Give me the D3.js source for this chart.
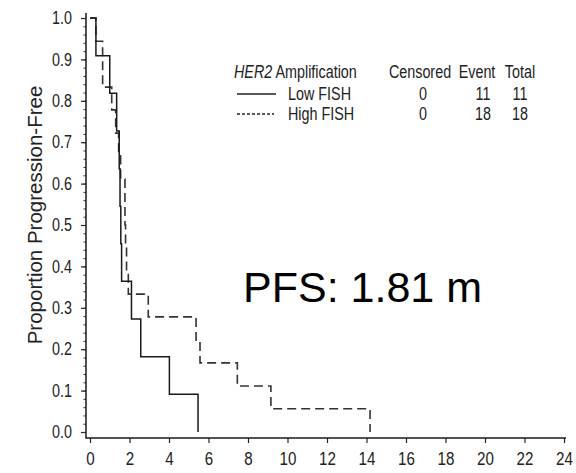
<!DOCTYPE html>
<html>
<head>
<meta charset="utf-8">
<script src="https://cdn.jsdelivr.net/npm/d3@7"></script>
<style>
  body { margin: 0; background: #fff; }
  svg text { font-family: "Liberation Sans", Arial, sans-serif; }
</style>
</head>
<body>
<svg id="chart" width="576" height="473"></svg>
<script>
// Kaplan-Meier steps (months, proportion after the event)
const lowTimes = [0.3, 1.0, 1.35, 1.48, 1.52, 1.56, 1.6, 2.1, 2.57, 4.02, 5.47];
const lowSurv = [0.909, 0.818, 0.727, 0.636, 0.545, 0.455, 0.364, 0.273, 0.182, 0.091, 0];
const highTimes = [0.3, 0.64, 0.64, 1.1, 1.3, 1.45, 1.55, 1.77, 1.77, 1.8, 1.85, 1.94, 2.95, 5.37, 5.57, 7.46, 9.16, 14.18];
const highSurv = [0.944, 0.889, 0.833, 0.778, 0.722, 0.667, 0.611, 0.556, 0.5, 0.444, 0.389, 0.333, 0.278, 0.222, 0.167, 0.111, 0.056, 0];

const xTicks = [0, 2, 4, 6, 8, 10, 12, 14, 16, 18, 20, 22, 24];
const yTicks = [0, 0.1, 0.2, 0.3, 0.4, 0.5, 0.6, 0.7, 0.8, 0.9, 1.0];

const groups = ["Low FISH", "High FISH"];
const censored = [0, 0];
const events = [11, 18];
const totals = [11, 18];

const NARROW = 0.82; // no narrow font installed, so squeeze Liberation Sans

const svg = d3.select("#chart");

const x = d3.scaleLinear().domain([0, 24]).range([90, 564]);
const y = d3.scaleLinear().domain([0, 1]).range([432, 18]);

const AXIS_X = 86, AXIS_Y = 438;

// y axis: major + minor ticks, no domain path (drawn by hand below)
const yMajor = svg.append("g")
  .attr("transform", `translate(${AXIS_X},0)`)
  .call(d3.axisLeft(y).tickValues(yTicks).tickSize(5).tickPadding(9)
    .tickFormat(d3.format(".1f")));
yMajor.select(".domain").remove();
yMajor.selectAll("text")
  .attr("font-size", 17.5)
  .attr("fill", "#222")
  .attr("x", -14 / NARROW)
  .attr("transform", `scale(${NARROW},1)`);
yMajor.selectAll("line").attr("stroke", "#222").attr("stroke-width", 1.2);

const yMinor = svg.append("g")
  .attr("transform", `translate(${AXIS_X},0)`)
  .call(d3.axisLeft(y).tickValues(d3.range(0, 1.001, 0.02)).tickSize(2.5).tickFormat(""));
yMinor.select(".domain").remove();
yMinor.selectAll("line").attr("stroke", "#333").attr("stroke-width", 1);

// x axis
const xAxis = svg.append("g")
  .attr("transform", `translate(0,${AXIS_Y})`)
  .call(d3.axisBottom(x).tickValues(xTicks).tickSize(5).tickPadding(9));
xAxis.select(".domain").remove();
xAxis.selectAll("text")
  .attr("font-size", 18.5)
  .attr("fill", "#222")
  .attr("transform", `scale(${NARROW},1)`);
xAxis.selectAll("line").attr("stroke", "#222").attr("stroke-width", 1.2);
svg.selectAll("g").attr("font-family", null);

// L-shaped frame
svg.append("path")
  .attr("d", `M${AXIS_X},13V${AXIS_Y}H566`)
  .attr("fill", "none")
  .attr("stroke", "#1a1a1a")
  .attr("stroke-width", 1.5);

// curves
const stepLine = d3.line()
  .x((d) => x(d[0]))
  .y((d) => y(d[1]))
  .curve(d3.curveStepAfter);

const toPoints = (times, surv) => [[0, 1]].concat(times.map((t, i) => [t, surv[i]]));

svg.append("path")
  .attr("d", stepLine(toPoints(highTimes, highSurv)))
  .attr("fill", "none")
  .attr("stroke", "#333")
  .attr("stroke-width", 1.6)
  .attr("stroke-dasharray", "9,5");

svg.append("path")
  .attr("d", stepLine(toPoints(lowTimes, lowSurv)))
  .attr("fill", "none")
  .attr("stroke", "#1a1a1a")
  .attr("stroke-width", 1.5);

// y label
svg.append("text")
  .attr("transform", "translate(42,215) rotate(-90)")
  .attr("text-anchor", "middle")
  .attr("font-size", 20.5)
  .attr("fill", "#222")
  .text("Proportion Progression-Free");

// legend
const legend = svg.append("g").attr("font-size", 17.5).attr("fill", "#222");

function narrowText(px, py, anchor) {
  return legend.append("text")
    .attr("transform", `translate(${px},${py}) scale(${NARROW},1)`)
    .attr("text-anchor", anchor);
}

const head = narrowText(234, 78, "start");
head.append("tspan").attr("font-style", "italic").text("HER2");
head.append("tspan").text(" Amplification");

const colX = [420, 477, 520];
["Censored", "Event", "Total"].forEach((h, i) => {
  narrowText(colX[i], 78, "middle").text(h);
});

const rowY = [100, 120];
const valX = [423, 483, 520];
groups.forEach((g, i) => {
  legend.append("line")
    .attr("x1", 237).attr("x2", i === 0 ? 276 : 274)
    .attr("y1", rowY[i] - 6).attr("y2", rowY[i] - 6)
    .attr("stroke", "#222")
    .attr("stroke-width", 1.3)
    .attr("stroke-dasharray", i === 0 ? null : "3,2");
  narrowText(288, rowY[i], "start").text(g);
  [censored[i], events[i], totals[i]].forEach((v, j) => {
    narrowText(valX[j], rowY[i], "middle").text(v);
  });
});

// annotation
svg.append("text")
  .attr("x", 243)
  .attr("y", 302)
  .attr("font-size", 43)
  .attr("fill", "#000")
  .text("PFS: 1.81 m");
</script>
</body>
</html>
